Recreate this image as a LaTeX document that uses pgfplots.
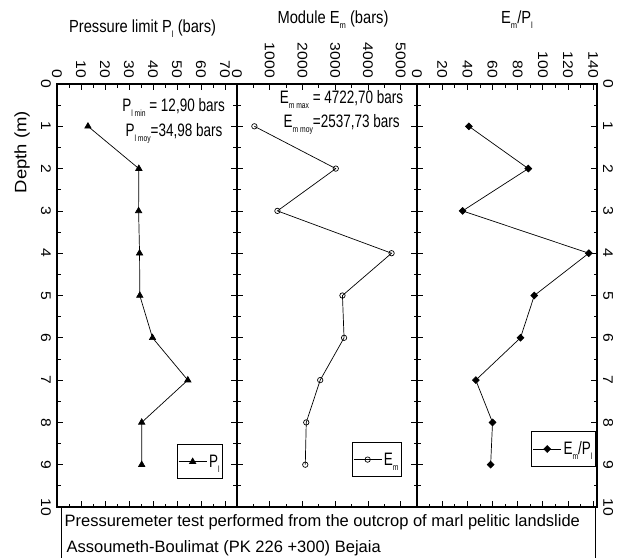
\documentclass[border=0pt]{standalone}
\usepackage{fontspec}
\setmainfont{Liberation Sans}
\newfontfamily\tickfont{Liberation Sans}[FakeStretch=1.12]
\newfontfamily\titlefont{Liberation Sans}[FakeStretch=0.84]
\newfontfamily\notefont{Liberation Sans}[FakeStretch=0.75]
\usepackage{pgfplots}
\pgfplotsset{compat=1.18}

\newcommand\sub[1]{\raisebox{-5pt}{\fontsize{9}{9}\selectfont #1}}

\pgfplotsset{
  panel/.style={
    scale only axis, width=180pt, height=423pt,
    anchor=south west,
    ymin=0, ymax=10, y dir=reverse,
    ytick={0,...,10}, minor y tick num=1,
    minor x tick num=1,
    xticklabel pos=upper,
    axis line style={line width=1.2pt},
    major tick length=6pt, minor tick length=3.5pt,
    tick style={black, line width=0.8pt},
    /pgf/number format/assume math mode=true,
    /pgf/number format/1000 sep={},
    scaled x ticks=false,
    x tick label style={font=\tickfont\fontsize{14}{15}\selectfont, rotate=-90, anchor=east, inner sep=6pt},
    y tick label style={font=\tickfont\fontsize{14}{15}\selectfont, rotate=-90, inner sep=6pt},
    legend style={draw=black, line width=0.9pt, font=\notefont\fontsize{18}{19}\selectfont,
      inner xsep=1pt, inner ysep=8pt},
    legend image code/.code={\draw[mark repeat=2,mark phase=2,##1] plot coordinates {(0pt,0pt) (14pt,0pt) (28pt,0pt)};},
    legend cell align=left,
  },
  series/.style={black, line width=0.7pt, mark options={solid, line width=0.7pt}},
}

\begin{document}
\begin{tikzpicture}
\useasboundingbox (0pt,0pt) rectangle (620pt,557pt);

% Pressure limit
\begin{axis}[panel, at={(57pt,50pt)},
  xmin=0, xmax=75, xtick={0,10,...,70},
  yticklabel pos=left, y tick label style={anchor=north},
  legend style={at={(0.922,0.066)}, anchor=south east}]
\addplot[series, mark=triangle*, mark size=3.6pt] coordinates {
(12.90,1) (34.1,2) (34.0,3) (34.4,4) (34.5,5) (39.8,6) (54.5,7) (35.3,8) (35.3,9)};
\addlegendentry{P\sub{l}}
\node[anchor=base east, font=\notefont\fontsize{18}{19}\selectfont, inner sep=0pt]
  at (axis cs:70,0.655) {P\sub{l min} = 12,90 bars};
\node[anchor=base east, font=\notefont\fontsize{18}{19}\selectfont, inner sep=0pt]
  at (axis cs:69,1.245) {P\sub{l moy}=34,98 bars};
\end{axis}

% Module
\begin{axis}[panel, at={(237pt,50pt)},
  xmin=0, xmax=5500, xtick={0,1000,...,5000},
  yticklabels={},
  legend style={at={(0.917,0.071)}, anchor=south east}]
\addplot[series, mark=o, mark size=2.7pt, mark options={fill=white}] coordinates {
(531,1) (3018,2) (1235,3) (4722.7,4) (3222,5) (3271,6) (2542,7) (2116,8) (2086,9)};
\addlegendentry{E\sub{m}}
\node[anchor=base east, font=\notefont\fontsize{18}{19}\selectfont, inner sep=0pt]
  at (axis cs:5085,0.47) {E\sub{m max} = 4722,70 bars};
\node[anchor=base east, font=\notefont\fontsize{18}{19}\selectfont, inner sep=0pt]
  at (axis cs:4975,1.04) {E\sub{m moy}=2537,73 bars};
\end{axis}

% Em/Pl
\begin{axis}[panel, at={(417pt,50pt)},
  xmin=0, xmax=143, xtick={0,20,...,140},
  yticklabel pos=right, y tick label style={anchor=south},
  legend style={at={(0.994,0.095)}, anchor=south east}]
\addplot[series, mark=square*, mark size=2.4pt, mark options={rotate=45}] coordinates {
(41.2,1) (88.4,2) (36.2,3) (136.5,4) (93.2,5) (82.2,6) (46.7,7) (60.0,8) (58.5,9)};
\addlegendentry{E\sub{m}/P\sub{l}}
\end{axis}

% titles and labels
\node[anchor=base, font=\titlefont\fontsize{17.5}{20}\selectfont] at (142.6pt,524pt) {Pressure limit P\sub{l} (bars)};
\node[anchor=base, font=\titlefont\fontsize{17.5}{20}\selectfont] at (333pt,533pt) {Module E\sub{m} (bars)};
\node[anchor=base, font=\titlefont\fontsize{17.5}{20}\selectfont] at (517pt,533pt) {E\sub{m}/P\sub{l}};
\node[rotate=90, font=\tickfont\fontsize{16.5}{18}\selectfont] at (22pt,405pt) {Depth (m)};

% caption box
\draw[line width=1pt] (61pt,-5pt) rectangle (595pt,50pt);
\node[anchor=base west, font=\fontsize{16.5}{18}\selectfont, inner sep=0pt] at (64.4pt,30.3pt)
  {Pressuremeter test performed from the outcrop of marl pelitic landslide};
\node[anchor=base west, font=\fontsize{16.5}{18}\selectfont, inner sep=0pt] at (66.4pt,4.5pt)
  {Assoumeth-Boulimat (PK 226 +300) Bejaia};
\end{tikzpicture}
\end{document}
